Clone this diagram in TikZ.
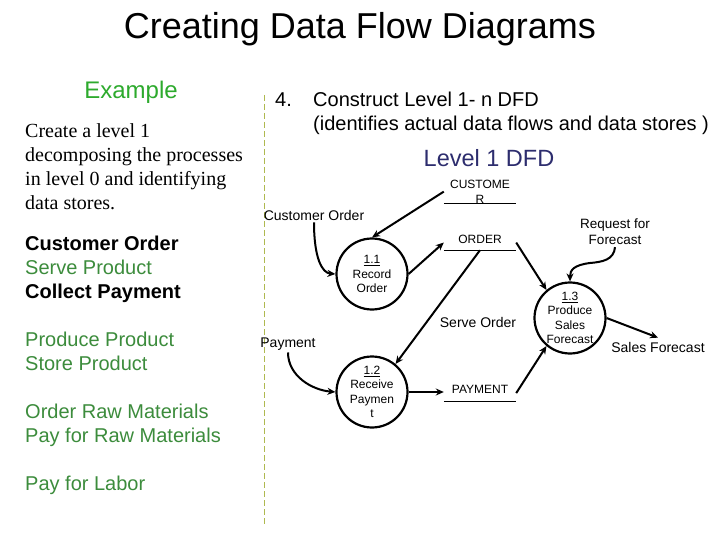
\documentclass[tikz,border=0pt]{standalone}
\usepackage{fontspec}
\setmainfont{Liberation Sans}
\newfontfamily\timesf{Liberation Serif}
\usetikzlibrary{arrows.meta}
\definecolor{exgreen}{RGB}{45,170,45}
\definecolor{lgreen}{RGB}{60,140,60}
\definecolor{navy}{RGB}{45,45,110}
\definecolor{dashcol}{RGB}{175,185,80}
\begin{document}
\begin{tikzpicture}[x=1pt,y=-1pt,
  proc/.style={circle,draw,line width=2.2pt,minimum size=71pt,inner sep=0pt,align=center,font=\fontsize{12}{14.5}\selectfont},
  store/.style={inner sep=0pt,minimum width=72pt,align=center,font=\fontsize{12}{15}\selectfont},
  storeline/.style={line width=1pt},
  flow/.style={line width=2pt,-{Stealth[length=8pt,width=7pt]}},
  lab/.style={font=\fontsize{14}{16}\selectfont,inner sep=2pt,align=center}]
\fill[white] (0,0) rectangle (720,540);
\useasboundingbox (0,0) rectangle (720,540);

% header
\node[anchor=base,inner sep=0pt,font=\fontsize{36}{40}\selectfont] (title) at (360,39) {Creating Data Flow Diagrams};
\node[anchor=base,inner sep=0pt,font=\fontsize{24}{28}\selectfont,text=exgreen] (example) at (131,99) {Example};
\node[anchor=base west,inner sep=0pt,align=left,font=\timesf\fontsize{20}{24}\selectfont] (intro) at (25,210)
  {Create a level 1\\decomposing the processes\\in level 0 and identifying\\data stores.};
\node[anchor=base west,inner sep=0pt,align=left,font=\fontsize{20}{24}\selectfont] (list) at (25,490)
  {\textbf{Customer Order}\\\textcolor{lgreen}{Serve Product}\\\textbf{Collect Payment}\\[24pt]
   \textcolor{lgreen}{Produce Product}\\\textcolor{lgreen}{Store Product}\\[24pt]
   \textcolor{lgreen}{Order Raw Materials}\\\textcolor{lgreen}{Pay for Raw Materials}\\[24pt]
   \textcolor{lgreen}{Pay for Labor}};

\draw[dashcol,line width=1pt,dash pattern=on 6pt off 3pt] (264,95) -- (264,525);

\node[anchor=base west,inner sep=0pt,font=\fontsize{20}{24}\selectfont] (step4) at (275,107) {4.};
\node[anchor=base west,inner sep=0pt,align=left,font=\fontsize{20}{24}\selectfont] (construct) at (313,131)
  {Construct Level 1- n DFD\\(identifies actual data flows and data stores )};
\node[anchor=base,inner sep=0pt,font=\fontsize{23.5}{28}\selectfont,text=navy] (lvl) at (489,167) {Level 1 DFD};

% processes
\node[proc] (p11) at (372,274) {\underline{1.1}\\Record\\Order};
\node[proc] (p12) at (372,392) {\underline{1.2}\\Receive\\Paymen\\t};
\node[proc] (p13) at (570,318) {\underline{1.3}\\Produce\\Sales\\Forecast};

% stores
\node[store,anchor=south] (cust) at (480,203.5) {CUSTOME\\R};
\draw[storeline] (cust.south west) -- (cust.south east);
\node[store,anchor=base,text depth=6.5pt] (ord) at (480,243.5) {ORDER};
\draw[storeline] (ord.south west) -- (ord.south east);
\node[store,anchor=base,text depth=7.5pt] (pay) at (480,393.5) {PAYMENT};
\draw[storeline] (pay.south west) -- (pay.south east);

% labels
\node[lab] (colab) at (314,215) {Customer Order};
\node[lab] (paylab) at (288,344) {Payment};
\node[lab] (solab) at (478,322) {Serve Order};
\node[lab,font=\fontsize{13.5}{16}\selectfont] (rflab) at (615,232) {Request for\\Forecast};
\node[lab,inner sep=4pt] (sflab) at (658,347) {Sales Forecast};

% flows
\draw[flow] (cust.west) -- (p11.north);
\draw[flow] (colab.south) .. controls (314,258) and (322,273) .. (p11.west);
\draw[flow] (p11.east) -- (ord.west);
\draw[flow] (ord.south) -- (p12.50);
\draw[flow] (paylab.south) .. controls (288,376) and (312,390) .. (p12.west);
\draw[flow] (p12.east) -- (p12.east -| pay.west);
\draw[flow] (pay.east) -- (p13.230);
\draw[flow] (ord.east) -- (p13.130);
\draw[flow] (rflab.south) .. controls (614,260) and (602,262) .. (590,263) .. controls (574,265) and (570,270) .. (p13.north);
\draw[flow] (p13.east) -- (sflab.north);
\end{tikzpicture}
\end{document}
